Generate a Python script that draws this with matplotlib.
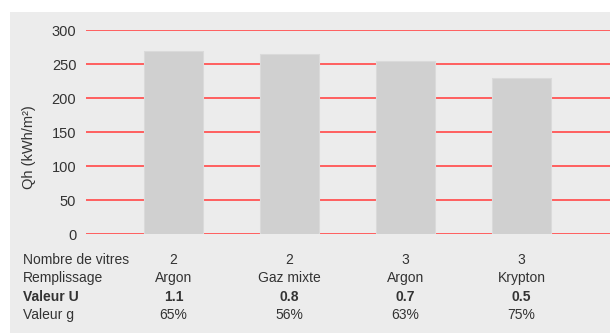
"""Heating demand Qh by glazing type, with a small spec table under the bars."""

import matplotlib.pyplot as plt
from matplotlib.patches import Rectangle

qh = [269, 264, 255, 229]
nb_vitres = ["2", "2", "3", "3"]
remplissage = ["Argon", "Gaz mixte", "Argon", "Krypton"]
valeur_u = ["1.1", "0.8", "0.7", "0.5"]
valeur_g = ["65%", "56%", "63%", "75%"]
row_labels = ["Nombre de vitres", "Remplissage", "Valeur U", "Valeur g"]
yticks = [0, 50, 100, 150, 200, 250, 300]

TEXT = "#333333"
RED = "#ff5f5f"
BAR = "#d0d0d0"
PANEL = "#ececec"
TABLE_FONT = ["Liberation Sans Narrow", "Liberation Sans", "DejaVu Sans"]


def main() -> None:
    W, H = 610, 333
    fig = plt.figure(figsize=(W / 100, H / 100), dpi=100)
    fig.patches.append(Rectangle((10 / W, 0), 1, (H - 12) / H, transform=fig.transFigure,
                                 facecolor=PANEL, edgecolor="none", zorder=-10))

    ax = fig.add_axes([86 / W, (H - 234) / H, (W - 86) / W, 204 / H])
    ax.set_facecolor("none")
    x = range(len(qh))
    ax.bar(x, qh, width=0.51, color=BAR, edgecolor="#dadada", linewidth=0.8, zorder=3)
    for t in yticks:
        ax.axhline(t, color=RED, linewidth=1.4, zorder=2)
    ax.set_xlim(-0.754, 3.763)
    ax.set_ylim(0, 300)
    ax.set_yticks(yticks)
    ax.set_yticklabels([str(t) for t in yticks], fontsize=10.5, color=TEXT,
                       family=["Liberation Sans", "DejaVu Sans"])
    ax.tick_params(axis="y", length=0, pad=7)
    ax.set_xticks([])
    for s in ax.spines.values():
        s.set_visible(False)

    fig.text(29 / W, 1 - 147 / H, "Qh (kWh/m²)", rotation=90, ha="center", va="center",
             fontsize=10.5, color=TEXT, family=["Liberation Sans", "DejaVu Sans"])

    rows = [nb_vitres, remplissage, valeur_u, valeur_g]
    row_y = [260, 278, 297, 315]
    for i, (label, vals, yy) in enumerate(zip(row_labels, rows, row_y)):
        bold = i == 2
        fy = 1 - yy / H
        fig.text(23 / W, fy, label, ha="left", va="center", fontsize=10, color=TEXT,
                 family=TABLE_FONT, weight="bold" if bold else "normal")
        for xi, v in zip(x, vals):
            fx = fig.transFigure.inverted().transform(ax.transData.transform((xi, 0)))[0]
            fig.text(fx, fy, v, ha="center", va="center", fontsize=10, color=TEXT,
                     family=TABLE_FONT, weight="bold" if bold else "normal")

    fig.savefig("out.png", dpi=100, facecolor="white")
    plt.close(fig)


if __name__ == "__main__":
    main()
